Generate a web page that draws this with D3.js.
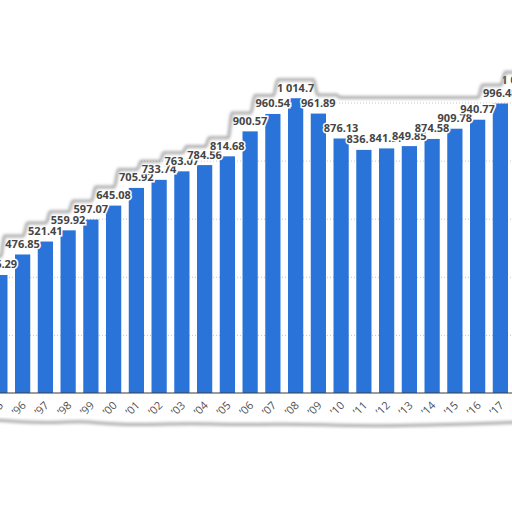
<!DOCTYPE html>
<html>
<head>
<meta charset="utf-8">
<script src="https://cdn.jsdelivr.net/npm/d3@7/dist/d3.min.js"></script>
<style>
html, body { margin: 0; padding: 0; background: #fff; }
svg { display: block; }
</style>
</head>
<body>
<svg id="chart" width="512" height="512"></svg>
<script>
// data
var years = ["95","96","97","98","99","00","01","02","03","04","05","06",
             "07","08","09","10","11","12","13","14","15","16","17","18"];
var values = [406.29, 476.85, 521.41, 559.92, 597.07, 645.08, 705.92, 733.74,
              763.07, 784.56, 814.68, 900.57, 960.54, 1014.7, 961.89, 876.13,
              836.84, 841.97, 849.85, 874.58, 909.78, 940.77, 996.48, 1040.12];
var valueLabels = ["406.29","476.85","521.41","559.92","597.07","645.08","705.92","733.74",
                   "763.07","784.56","814.68","900.57","960.54","1 014.7","961.89","876.13",
                   "836.84","841.97","849.85","874.58","909.78","940.77","996.48","1 040.12"];
var gridValues = [200, 400, 600, 800, 1000];

// bottom torn edge (decoration only)
var tearBottom = [[-6,419],[20,421],[50,422],[80,420],[110,423],[150,424],[190,422],[230,424],
                  [280,423],[330,424],[380,425],[430,424],[470,423],[500,422],[520,421]];

var W = 512, H = 512;
var svg = d3.select("#chart");

var x = d3.scaleBand()
	.domain(years)
	.range([-11.5, 534.5])
	.paddingInner(0.33)
	.paddingOuter(0.165);

var y = d3.scaleLinear()
	.domain([0, 1200])
	.range([393, 393 - 1200 * 0.2905]);

function cx(d) { return x(d) + x.bandwidth() / 2; }

var defs = svg.append("defs");
var blur = defs.append("filter").attr("id", "soft")
	.attr("x", "-10%").attr("y", "-50%").attr("width", "120%").attr("height", "200%");
blur.append("feGaussianBlur").attr("stdDeviation", 1.4);

// gridlines
svg.append("g").selectAll("line")
	.data(gridValues)
	.enter()
	.append("line")
	.attr("x1", 0)
	.attr("x2", W)
	.attr("y1", function(d) { return y(d) + 0.5; })
	.attr("y2", function(d) { return y(d) + 0.5; })
	.attr("stroke", "#c4c4c4")
	.attr("stroke-width", 1)
	.attr("stroke-dasharray", "1,2");

// bars
svg.append("g").selectAll("rect")
	.data(values)
	.enter()
	.append("rect")
	.attr("x", function(d, i) { return x(years[i]); })
	.attr("y", function(d) { return y(d); })
	.attr("width", x.bandwidth())
	.attr("height", function(d) { return y(0) - y(d); })
	.attr("fill", "#2a74d9");

// baseline
svg.append("line")
	.attr("x1", 0).attr("x2", W)
	.attr("y1", y(0)).attr("y2", y(0))
	.attr("stroke", "#3a3a3a")
	.attr("stroke-width", 1.2);

// value labels
svg.append("g").selectAll("text")
	.data(values)
	.enter()
	.append("text")
	.attr("x", function(d, i) { return cx(years[i]); })
	.attr("y", function(d) { return y(d) - 6.5; })
	.attr("text-anchor", "middle")
	.attr("font-family", "'Open Sans', sans-serif")
	.attr("font-weight", "bold")
	.attr("font-size", "11px")
	.attr("fill", "#454545")
	.attr("stroke", "#fff")
	.attr("stroke-width", 3)
	.attr("paint-order", "stroke")
	.text(function(d, i) { return valueLabels[i]; });

// year ticks
svg.append("g").selectAll("text")
	.data(years)
	.enter()
	.append("text")
	.attr("transform", function(d) {
		return "translate(" + (cx(d) + 4) + ",406) rotate(-45)";
	})
	.attr("text-anchor", "end")
	.attr("font-family", "'Open Sans', sans-serif")
	.attr("font-size", "11px")
	.attr("fill", "#505050")
	.text(function(d) { return "\u2019" + d; });

// top torn edge: hugs the label tops, flat over the dip after '08
var tearTop = [[-8, y(values[0]) - 20]];
var prev = y(values[0]) - 20;
values.forEach(function(v, i) {
	var e = y(v) - 20;
	if (i >= 12) e = Math.min(e, 96);
	var c = cx(years[i]);
	if (i === 0) { prev = e; return; }
	if (e < prev) {
		tearTop.push([c - 22, prev]);
		tearTop.push([c - 18, e]);
	} else if (e > prev) {
		var pc = cx(years[i - 1]);
		tearTop.push([pc + 18, prev]);
		tearTop.push([pc + 22, e]);
	}
	prev = e;
});
tearTop.push([530, prev]);

var edge = d3.line().curve(d3.curveMonotoneX);
var edgeB = d3.line().curve(d3.curveBasis);
var topShape = edge(tearTop) + "L530,-10L-8,-10Z";
var bottomShape = edgeB(tearBottom) + "L520,520L-6,520Z";

svg.append("path").attr("d", topShape).attr("fill", "#fff");
svg.append("path").attr("d", bottomShape).attr("fill", "#fff");

svg.append("path")
	.attr("d", edge(tearTop.map(function(p) { return [p[0], p[1] + 1.5]; })))
	.attr("fill", "none")
	.attr("stroke", "#8f8f8f")
	.attr("stroke-width", 3)
	.attr("opacity", 0.75)
	.attr("filter", "url(#soft)");
svg.append("path")
	.attr("d", edgeB(tearBottom.map(function(p) { return [p[0], p[1] + 1]; })))
	.attr("fill", "none")
	.attr("stroke", "#8f8f8f")
	.attr("stroke-width", 3)
	.attr("opacity", 0.75)
	.attr("filter", "url(#soft)");
</script>
</body>
</html>
